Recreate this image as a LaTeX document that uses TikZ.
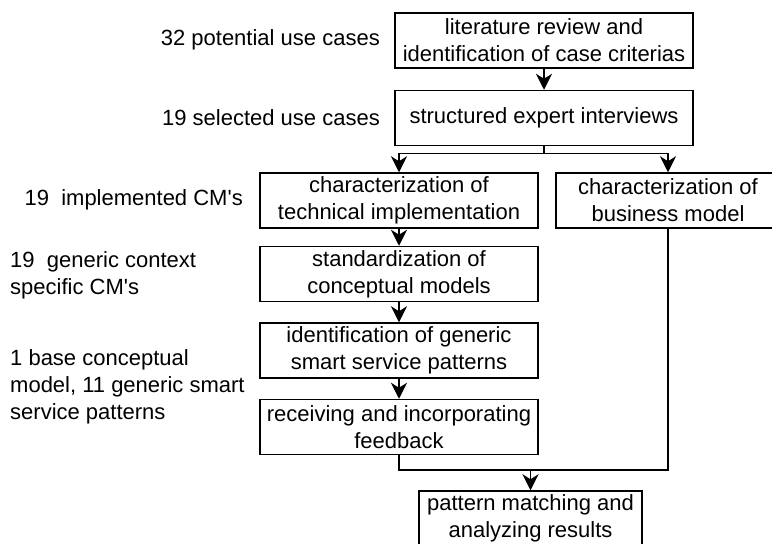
\documentclass[tikz,border=0pt]{standalone}
\usepackage{fontspec}
\setmainfont{Liberation Sans}
\usetikzlibrary{arrows.meta}

\begin{document}
\begin{tikzpicture}[x=1pt,y=-1pt,
    box/.style={draw,line width=1.5pt,inner sep=0pt,align=center,
      font=\fontsize{22}{27}\selectfont},
    lbl/.style={inner sep=0pt,align=left,font=\fontsize{22}{27}\selectfont},
    wire/.style={line width=1.5pt},
    flow/.style={line width=1.5pt,-{Stealth[length=16pt,width=16pt,inset=5pt]}}]
  \useasboundingbox (0,0) rectangle (772,544);
  \clip (0,0) rectangle (772,544);
  \pgfmathsetmacro\hbx{55}     % height of all boxes
  \pgfmathsetmacro\wtop{298}   % width of the two top boxes
  \pgfmathsetmacro\wcol{278}   % width of the left column

% main column
  \node[box,minimum width=\wtop,minimum height=\hbx] (lit)  at (544,40.5)
    {literature review and\\identification of case criterias};
  \node[box,minimum width=\wtop,minimum height=\hbx] (intv) at (544,118)
    {structured expert interviews};
  \node[box,minimum width=\wcol,minimum height=\hbx] (tech) at (399,200.5)
    {characterization of\\technical implementation};
  \node[box,minimum width=224,minimum height=\hbx]   (bus)  at (668,200.5)
    {characterization of\\business model};
  \node[box,minimum width=\wcol,minimum height=\hbx] (std)  at (399,274)
    {standardization of\\conceptual models};
  \node[box,minimum width=\wcol,minimum height=\hbx] (gen)  at (399,350.5)
    {identification of generic\\smart service patterns};
  \node[box,minimum width=\wcol,minimum height=\hbx] (recv) at (399,427)
    {receiving and incorporating\\feedback};
  \node[box,minimum width=223,minimum height=\hbx]   (pat)  at (530.5,518.5)
    {pattern matching and\\analyzing results};

% outcomes at left
  \node[lbl,anchor=east] (n32) at (380,40)  {32 potential use cases};
  \node[lbl,anchor=east] (n19) at (380,118) {19 selected use cases};
  \node[lbl,anchor=east] (ncm) at (243,200) {19\ \ implemented CM\textquotesingle s};
  \node[lbl,anchor=west] (nctx) at (10,275.5)
    {19\ \ generic context\\specific CM\textquotesingle s};
  \node[lbl,anchor=west] (nbase) at (10,386.5)
    {1 base conceptual\\model, 11 generic smart\\service patterns};

% connectors
  \draw[flow] (lit) -- (intv);
  \draw[wire] (intv.south) -- ++(0,7) coordinate (split);
  \draw[flow] (split) -| (tech.north);
  \draw[flow] (split) -| (bus.north);
  \draw[flow] (tech) -- (std);
  \draw[flow] (std) -- (gen);
  \draw[flow] (gen) -- (recv);
  \coordinate (merge) at (pat.north |- 0,470);
  \draw[wire] (recv.south) |- (merge);
  \draw[wire] (bus.south) |- (merge);
  \draw[flow] (merge) -- (pat.north);

\end{tikzpicture}
\end{document}
